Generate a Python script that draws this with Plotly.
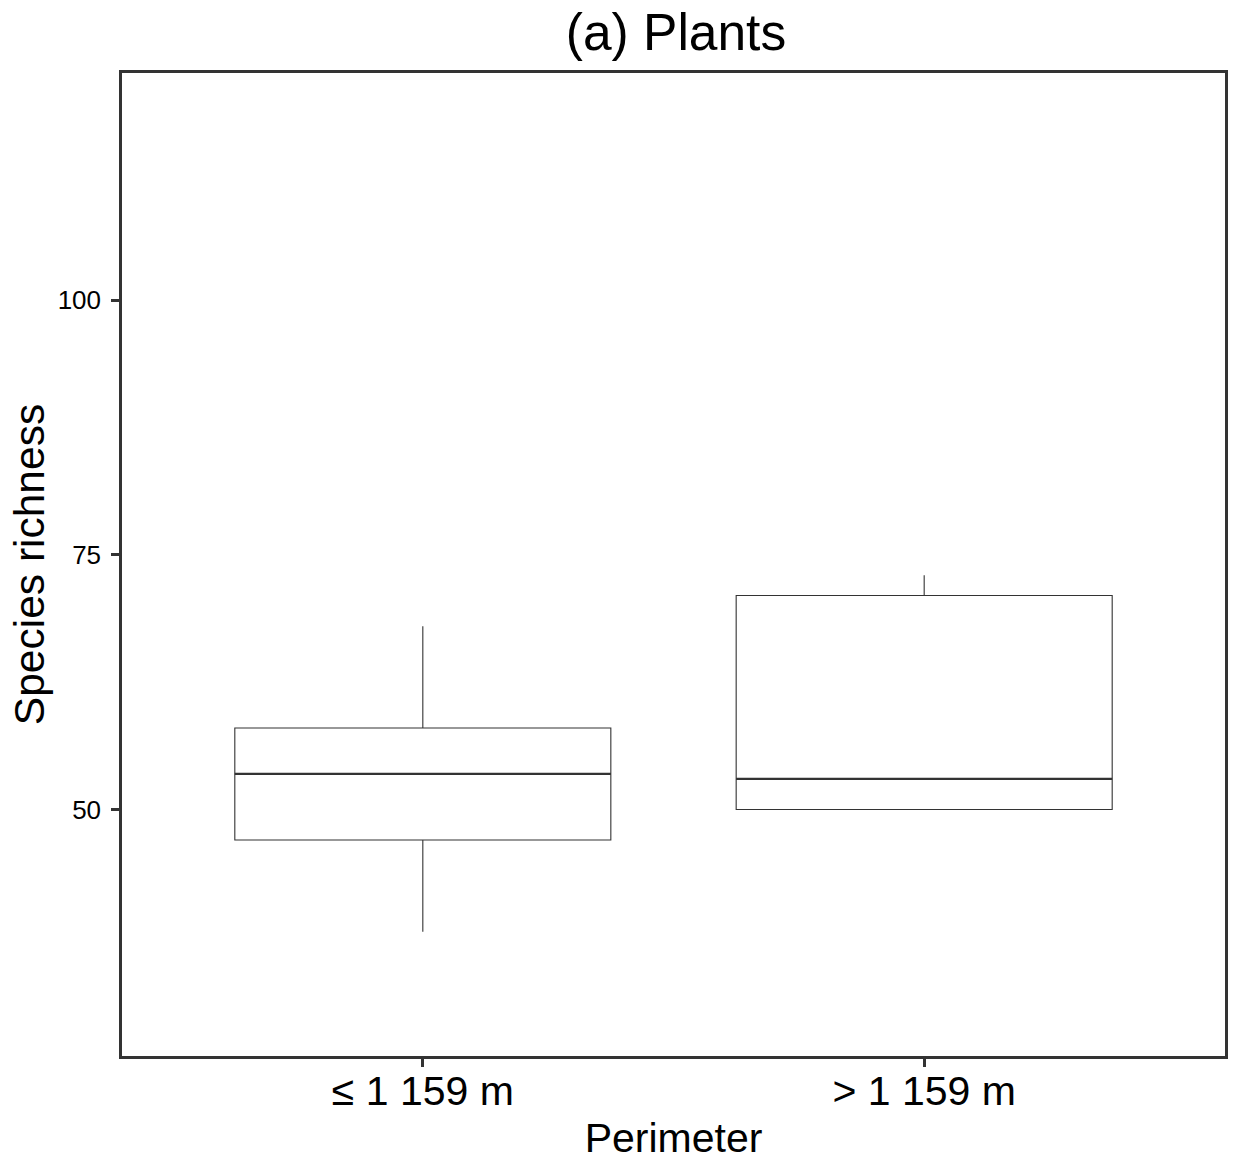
import plotly.graph_objects as go

categories = ["≤ 1 159 m", "> 1 159 m"]
positions = [1, 2]
lower_whisker = [38, 50]
q1 = [47, 50]
median = [53.5, 53]
q3 = [58, 71]
upper_whisker = [68, 73]

y_ticks = [50, 75, 100]
box_width = 0.75
ink = "#333333"
font_family = "Liberation Sans, Arial, sans-serif"

fig = go.Figure()
fig.add_trace(go.Box(
    x=positions, q1=q1, median=median, q3=q3,
    lowerfence=lower_whisker, upperfence=upper_whisker,
    width=box_width, fillcolor="white",
    line=dict(color=ink, width=1.1), whiskerwidth=0,
    boxpoints=False, showlegend=False, hoverinfo="skip",
))
for p, m in zip(positions, median):
    fig.add_trace(go.Scatter(
        x=[p - box_width / 2, p + box_width / 2], y=[m, m], mode="lines",
        line=dict(color=ink, width=2.3), showlegend=False, hoverinfo="skip",
    ))

fig.update_layout(
    width=1233, height=1164,
    margin=dict(l=122, r=8, t=73, b=108),
    paper_bgcolor="white", plot_bgcolor="white",
    font=dict(family=font_family, color="black"),
    title=dict(text="(a) Plants", x=676 / 1233, xanchor="center",
               y=1 - 32 / 1164, yanchor="middle", yref="container",
               font=dict(size=51.5, color="black")),
    xaxis=dict(range=[0.4, 2.6], tickvals=positions, ticktext=categories,
               showline=True, mirror=True, linecolor=ink, linewidth=2.5,
               ticks="outside", ticklen=8, tickwidth=2.5, tickcolor=ink,
               showgrid=False, zeroline=False, automargin=False,
               tickfont=dict(size=41, color="black"), ticklabelstandoff=-11,
               title=dict(text="Perimeter", font=dict(size=41, color="black"), standoff=11)),
    yaxis=dict(range=[25.8, 122.3], tickvals=y_ticks,
               showline=True, mirror=True, linecolor=ink, linewidth=2.5,
               ticks="outside", ticklen=8, tickwidth=2.5, tickcolor=ink,
               showgrid=False, zeroline=False, automargin=False,
               tickfont=dict(size=26, color="black"), ticklabelstandoff=5,
               title=dict(text="Species richness", font=dict(size=42.5, color="black"), standoff=0)),
)

fig.write_html("out.html")
